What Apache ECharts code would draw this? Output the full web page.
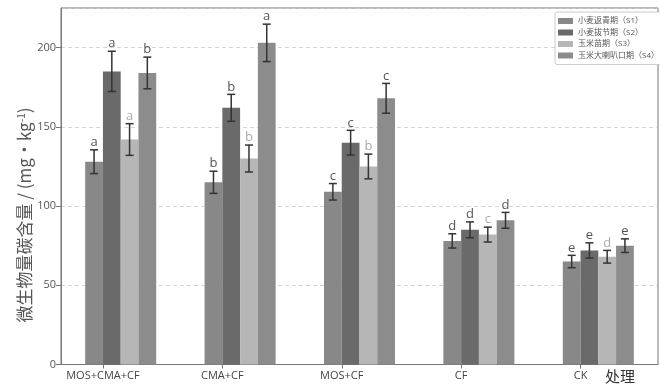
<!DOCTYPE html>
<html>
<head>
<meta charset="utf-8">
<script src="https://cdn.jsdelivr.net/npm/echarts@6/dist/echarts.min.js"></script>
<style>html,body{margin:0;padding:0;background:#fff;}#c{width:660px;height:387px;}</style>
</head>
<body>
<div id="c"></div>
<script>
const categories = ['MOS+CMA+CF', 'CMA+CF', 'MOS+CF', 'CF', 'CK'];
const stageNames = ['小麦返青期（S1）', '小麦拔节期（S2）', '玉米苗期（S3）', '玉米大喇叭口期（S4）'];
const s1 = [128, 115, 109, 78, 65];
const s2 = [185, 162, 140, 85, 72];
const s3 = [142, 130, 125, 82, 68];
const s4 = [184, 203, 168, 91, 75];
const err1 = [7.5, 7, 5.2, 4.5, 3.9];
const err2 = [12.7, 8.5, 7.8, 5, 4.8];
const err3 = [10, 8.5, 7.8, 4.7, 4];
const err4 = [10, 11.8, 9.4, 5, 4.3];
const let1 = ['a', 'b', 'c', 'd', 'e'];
const let2 = ['a', 'b', 'c', 'd', 'e'];
const let3 = ['a', 'b', 'b', 'c', 'd'];
const let4 = ['b', 'a', 'c', 'd', 'e'];
const yTicks = [0, 50, 100, 150, 200];

const values = [s1, s2, s3, s4];
const errs = [err1, err2, err3, err4];
const letters = [let1, let2, let3, let4];
const barColors = ['#888888', '#6a6a6a', '#b6b6b6', '#8c8c8c'];
const letterColors = ['#555555', '#555555', '#aaaaaa', '#555555'];
const BAR_FRAC = 0.1487;
const FONT = '"Open Sans", "Noto Sans CJK SC", sans-serif';

const series = [];
values.forEach((vals, k) => {
  series.push({
    name: stageNames[k], type: 'bar', xAxisIndex: 0, yAxisIndex: 0,
    data: vals, barWidth: (BAR_FRAC * 100) + '%', barGap: '0%',
    itemStyle: { color: barColors[k] }, z: 2
  });
});
values.forEach((vals, k) => {
  series.push({
    name: 'err' + k, type: 'custom', xAxisIndex: 0, yAxisIndex: 0, z: 5,
    data: vals.map((v, i) => [i, v, errs[k][i]]),
    encode: { x: 0, y: 1 },
    renderItem: function (params, api) {
      const i = api.value(0), v = api.value(1), e = api.value(2);
      const bw = api.size([1, 0])[0];
      const off = (k - 1.5) * bw * BAR_FRAC;
      const top = api.coord([i, v + e]);
      const bot = api.coord([i, v - e]);
      const x = top[0] + off;
      const cap = 4;
      const ls = { stroke: '#333', lineWidth: 1.5 };
      return {
        type: 'group',
        children: [
          { type: 'line', shape: { x1: x, y1: top[1], x2: x, y2: bot[1] }, style: ls },
          { type: 'line', shape: { x1: x - cap, y1: top[1], x2: x + cap, y2: top[1] }, style: ls },
          { type: 'line', shape: { x1: x - cap, y1: bot[1], x2: x + cap, y2: bot[1] }, style: ls },
          { type: 'text', style: { text: letters[k][params.dataIndex], x: x, y: top[1] - 1,
              textAlign: 'center', textVerticalAlign: 'bottom', fill: letterColors[k],
              font: '13px ' + FONT } }
        ]
      };
    }
  });
});

const chart = echarts.init(document.getElementById('c'));
chart.setOption({
  animation: false,
  backgroundColor: '#fff',
  textStyle: { fontFamily: FONT },
  grid: [
    { left: 61, right: 2, top: 8, bottom: 22.5, show: true, borderColor: '#777', borderWidth: 1, backgroundColor: 'transparent' },
    { left: 61 - 17.75, right: 2 + 17.75, top: 8, bottom: 22.5 }
  ],
  legend: {
    data: stageNames, orient: 'vertical', left: 555, top: 12, right: 'auto',
    itemWidth: 15, itemHeight: 6, itemGap: 1.5, icon: 'rect',
    padding: [4, 6, 4, 3], borderColor: '#cccccc', borderWidth: 1, borderRadius: 2,
    backgroundColor: '#fff',
    textStyle: { fontSize: 8, color: '#555', lineHeight: 10, fontFamily: FONT },
    selectedMode: false
  },
  xAxis: [
    { type: 'category', gridIndex: 0, data: categories,
      axisLine: { lineStyle: { color: '#777' } }, axisTick: { show: false }, axisLabel: { show: false } },
    { type: 'category', gridIndex: 1, data: categories,
      axisLine: { show: false },
      axisTick: { show: true, alignWithLabel: true, length: 4, lineStyle: { color: '#777' } },
      axisLabel: { fontSize: 11, color: '#444', margin: 6 } }
  ],
  yAxis: [
    { type: 'value', gridIndex: 0, min: yTicks[0], max: 225, interval: yTicks[1] - yTicks[0],
      axisLine: { show: true, lineStyle: { color: '#777' } },
      axisTick: { show: true, length: 5, lineStyle: { color: '#777' } },
      axisLabel: { fontSize: 11, color: '#555', margin: 5, showMaxLabel: false },
      splitLine: { show: true, lineStyle: { color: '#cccccc', type: [4, 3], width: 0.8 } } },
    { type: 'value', gridIndex: 1, min: 0, max: 225, show: false, splitLine: { show: false } }
  ],
  graphic: [
    { type: 'text', x: 25, y: 215, rotation: Math.PI / 2, z: 10,
      style: { text: '{a|微生物量碳含量 / (mg·kg}{s|-1}{a|)}', textAlign: 'center', textVerticalAlign: 'middle',
        rich: { a: { fontSize: 17, fill: '#555', fontFamily: '"Noto Sans CJK SC", sans-serif' },
                s: { fontSize: 10, fill: '#555', verticalAlign: 'top', padding: [0, 0, 8, 0], fontFamily: '"Noto Sans CJK SC", sans-serif' } } } },
    { type: 'text', x: 620, y: 376, z: 10,
      style: { text: '处理', textAlign: 'center', textVerticalAlign: 'middle', fill: '#333',
        font: '15px "Noto Sans CJK SC", sans-serif' } }
  ],
  series: series
});
</script>
</body>
</html>
